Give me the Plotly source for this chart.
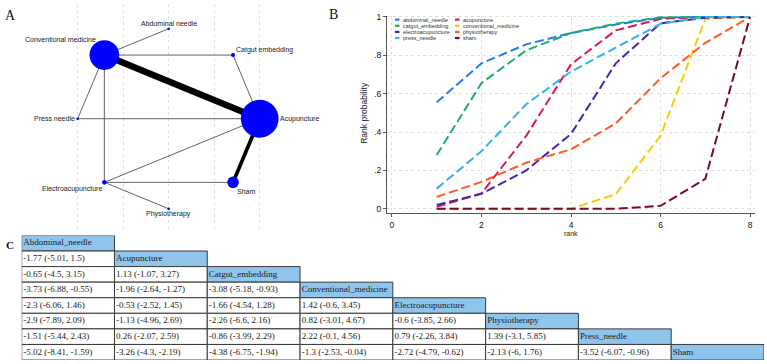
import numpy as np
import plotly.graph_objects as go

W, H = 767, 364

# ---------------- Panel A: network data ----------------
# nodes listed counter-clockwise starting at 3 o'clock
nodes = ["Acupuncture", "Catgut embedding", "Abdominal needle", "Conventional medicine",
         "Press needle", "Electroacupuncture", "Physiotherapy", "Sham"]
node_weight = [14.0, 1.5, 1.0, 11.0, 1.0, 1.7, 1.0, 4.3]
edge_from = ["Conventional medicine", "Conventional medicine", "Conventional medicine",
             "Conventional medicine", "Conventional medicine", "Catgut embedding",
             "Press needle", "Electroacupuncture", "Electroacupuncture",
             "Electroacupuncture", "Sham"]
edge_to = ["Abdominal needle", "Catgut embedding", "Acupuncture", "Press needle",
           "Electroacupuncture", "Acupuncture", "Acupuncture", "Acupuncture",
           "Sham", "Physiotherapy", "Acupuncture"]
edge_studies = [1, 1, 7, 1, 1, 1, 1, 1, 1, 1, 4]

# ---------------- Panel B: cumulative rank probabilities ----------------
ranks = [1, 2, 3, 4, 5, 6, 7, 8]
treatments = ["abdominal_needle", "acupuncture", "catgut_embedding", "conventional_medicine",
              "electroacupuncture", "physiotherapy", "press_needle", "sham"]
p_abdominal_needle = [0.555, 0.758, 0.857, 0.916, 0.960, 0.995, 1.0, 1.0]
p_acupuncture = [0.010, 0.080, 0.380, 0.753, 0.930, 0.990, 1.0, 1.0]
p_catgut_embedding = [0.280, 0.655, 0.826, 0.916, 0.965, 0.998, 1.0, 1.0]
p_conventional_medicine = [0.0, 0.0, 0.0, 0.0, 0.076, 0.380, 0.990, 1.0]
p_electroacupuncture = [0.020, 0.078, 0.200, 0.390, 0.758, 0.967, 0.995, 1.0]
p_physiotherapy = [0.062, 0.140, 0.240, 0.310, 0.445, 0.680, 0.865, 1.0]
p_press_needle = [0.105, 0.300, 0.545, 0.715, 0.840, 0.964, 1.0, 1.0]
p_sham = [0.0, 0.0, 0.0, 0.0, 0.0, 0.015, 0.156, 1.0]
y_ticks = [0, 0.2, 0.4, 0.6, 0.8, 1]
y_ticktext = ["0", ".2", ".4", ".6", ".8", "1"]
x_ticks = [0, 2, 4, 6, 8]

# ---------------- Panel C: league table ----------------
league_names = ["Abdominal_needle", "Acupuncture", "Catgut_embedding", "Conventional_medicine",
                "Electroacupuncture", "Physiotherapy", "Press_needle", "Sham"]
league_est = [[],
              [-1.77],
              [-0.65, 1.13],
              [-3.73, -1.96, -3.08],
              [-2.3, -0.53, -1.66, 1.42],
              [-2.9, -1.13, -2.26, 0.82, -0.6],
              [-1.51, 0.26, -0.86, 2.22, 0.79, 1.39],
              [-5.02, -3.26, -4.38, -1.3, -2.72, -2.13, -3.52]]
league_lo = [[],
             [-5.01],
             [-4.5, -1.07],
             [-6.88, -2.64, -5.18],
             [-6.06, -2.52, -4.54, -0.6],
             [-7.89, -4.96, -6.6, -3.01, -3.85],
             [-5.44, -2.07, -3.99, -0.1, -2.26, -3.1],
             [-8.41, -4.3, -6.75, -2.53, -4.79, -6, -6.07]]
league_hi = [[],
             [1.5],
             [3.15, 3.27],
             [-0.55, -1.27, -0.93],
             [1.46, 1.45, 1.28, 3.45],
             [2.09, 2.69, 2.16, 4.67, 2.66],
             [2.43, 2.59, 2.29, 4.56, 3.84, 5.85],
             [-1.59, -2.19, -1.94, -0.04, -0.62, 1.76, -0.96]]

# ---------------- styles ----------------
line_colors = ["#1f7ef0", "#d6195b", "#17b26a", "#ffc806",
               "#4a24a8", "#ff5a1f", "#36b1ef", "#7a0b1b"]
HEAD_FILL = "#8fc5ec"
BORDER = "#3a3a3a"
GRID = "#dedede"
SANS = "Liberation Sans, Arial, sans-serif"
SERIF = "Liberation Serif, Times New Roman, serif"

def px_x(p):
    return p / W

def px_y(p):
    return 1 - p / H

fig = go.Figure()

# ---------------- Panel A ----------------
ang = np.deg2rad(45.0 * np.arange(len(nodes)))
nx, ny = np.cos(ang), np.sin(ang)
pos = {n: (nx[i], ny[i]) for i, n in enumerate(nodes)}

for a, b, n in zip(edge_from, edge_to, edge_studies):
    fig.add_trace(go.Scatter(
        x=[pos[a][0], pos[b][0]], y=[pos[a][1], pos[b][1]], mode="lines",
        line=dict(color="#585858" if n == 1 else "#000000", width=0.93 * n),
        hoverinfo="skip", showlegend=False, xaxis="x", yaxis="y"))

fig.add_trace(go.Scatter(
    x=nx, y=ny, mode="markers",
    marker=dict(size=[2.7 * w for w in node_weight], color="#0000ff", opacity=1,
                line=dict(width=0)),
    hovertext=nodes, showlegend=False, xaxis="x", yaxis="y"))

label_style = {
    "Conventional medicine": ("right", "middle", -8, 16),
    "Abdominal needle": ("center", "middle", 0, 5),
    "Catgut embedding": ("left", "middle", 3, 5),
    "Acupuncture": ("left", "middle", 20, 0),
    "Press needle": ("right", "middle", -3, 0),
    "Electroacupuncture": ("right", "middle", -2, -6.5),
    "Sham": ("left", "middle", 4, -9.5),
    "Physiotherapy": ("center", "middle", 0, -5.5),
}
annotations = []
for n in nodes:
    xa, ya, xs, ys = label_style[n]
    annotations.append(dict(
        x=pos[n][0], y=pos[n][1], xref="x", yref="y", text=n, showarrow=False,
        xanchor=xa, yanchor=ya, xshift=xs, yshift=ys, borderpad=0, borderwidth=0,
        font=dict(family=SANS, size=7, color="#1a1a1a")))

# ---------------- Panel B ----------------
series = [p_abdominal_needle, p_acupuncture, p_catgut_embedding, p_conventional_medicine,
          p_electroacupuncture, p_physiotherapy, p_press_needle, p_sham]
for name, vals, col in zip(treatments, series, line_colors):
    fig.add_trace(go.Scatter(
        x=ranks, y=vals, mode="lines", name=name,
        line=dict(color=col, width=2, dash="9px,4px"),
        showlegend=False, xaxis="x2", yaxis="y2"))

# legend (two columns, filled row-wise)
shapes = []
for k, (name, col) in enumerate(zip(treatments, line_colors)):
    c, r = k % 2, k // 2
    yy = 15.8 + 6.2 * r
    x0 = 395 if c == 0 else 455
    shapes.append(dict(type="line", xref="paper", yref="paper",
                       x0=px_x(x0), x1=px_x(x0 + 4.5), y0=px_y(yy), y1=px_y(yy),
                       line=dict(color=col, width=2.2)))
    annotations.append(dict(x=px_x(x0 + 8), y=px_y(yy), xref="paper", yref="paper",
                            text=name, showarrow=False, xanchor="left", yanchor="middle",
                            borderpad=0, borderwidth=0,
                            font=dict(family=SANS, size=5.5, color="#333333")))

annotations.append(dict(x=px_x(364), y=px_y(110), xref="paper", yref="paper",
                        text="Rank probability", textangle=-90, showarrow=False,
                        xanchor="center", yanchor="middle", borderpad=0, borderwidth=0,
                        font=dict(family=SANS, size=8.5, color="#222222")))
annotations.append(dict(x=px_x(571), y=px_y(232), xref="paper", yref="paper",
                        text="rank", showarrow=False, xanchor="center", yanchor="middle",
                        borderpad=0, borderwidth=0,
                        font=dict(family=SANS, size=7, color="#222222")))

# ---------------- Panel C ----------------
tx, ty, tt = [], [], []
for i in range(len(league_names)):
    for j in range(i + 1):
        fill = HEAD_FILL if i == j else "white"
        shapes.append(dict(type="rect", xref="x3", yref="y3", x0=j, x1=j + 1, y0=i, y1=i + 1,
                           fillcolor=fill, line=dict(color=BORDER, width=1), layer="below"))
        if i == j:
            txt = league_names[i]
        else:
            txt = f"{league_est[i][j]:g} ({league_lo[i][j]:g}, {league_hi[i][j]:g})"
        tx.append(j + 0.017)
        ty.append(i + 0.5)
        tt.append(txt)

fig.add_trace(go.Scatter(
    x=tx, y=ty, text=tt, mode="text", textposition="middle right",
    textfont=dict(family=SERIF, size=9, color="#1a1a1a"),
    hoverinfo="skip", showlegend=False, xaxis="x3", yaxis="y3"))

# panel letters
for letter, lx, ly, size in [("A", 10, 12, 14), ("B", 333, 11, 14), ("<b>C</b>", 10, 244, 11)]:
    annotations.append(dict(x=px_x(lx), y=px_y(ly), xref="paper", yref="paper", text=letter,
                            showarrow=False, xanchor="center", yanchor="middle",
                            borderpad=0, borderwidth=0,
                            font=dict(family=SERIF, size=size, color="#111111")))

hidden = dict(showgrid=False, zeroline=False, showticklabels=False, showline=False, ticks="")

fig.update_layout(
    width=W, height=H, margin=dict(l=0, r=0, t=0, b=0),
    paper_bgcolor="white", plot_bgcolor="white",
    font=dict(family=SANS, color="#222222"),
    showlegend=False,
    xaxis=dict(domain=[0, 368 / W], range=[-168.7 / 91, (368 - 168.7) / 91],
               tickvals=[-1, -0.5, 0, 0.5, 1], showgrid=True, gridcolor=GRID, griddash="3px,3px",
               gridwidth=1, zeroline=False, showticklabels=False, showline=False, ticks="",
               anchor="y", fixedrange=True),
    yaxis=dict(domain=[1 - 228 / H, 1], range=[(116 - 228) / 91, 116 / 91], anchor="x",
               fixedrange=True, **hidden),
    xaxis2=dict(domain=[387 / W, 755 / W], range=[-0.11, 8.11], tickvals=x_ticks,
                ticks="outside", ticklen=3, tickcolor="#555555", showline=True,
                linecolor="#555555", linewidth=1, showgrid=True, gridcolor=GRID,
                griddash="3px,3px", zeroline=False, anchor="y2",
                tickfont=dict(family=SANS, size=8.5, color="#111111")),
    yaxis2=dict(domain=[1 - 211.7 / H, 1 - 11.7 / H], range=[-0.024, 1.007],
                tickvals=y_ticks, ticktext=y_ticktext, ticks="outside", ticklen=3,
                tickcolor="#555555", showline=True, linecolor="#555555", linewidth=1,
                showgrid=True, gridcolor=GRID, griddash="3px,3px", zeroline=False,
                anchor="x2", tickfont=dict(family=SANS, size=8.5, color="#111111")),
    xaxis3=dict(domain=[21.7 / W, 764 / W], range=[0, 8], anchor="y3", **hidden),
    yaxis3=dict(domain=[1 - 360 / H, 1 - 234 / H], range=[8, 0], anchor="x3", **hidden),
    shapes=shapes,
    annotations=annotations,
)

fig.write_html("out.html")
